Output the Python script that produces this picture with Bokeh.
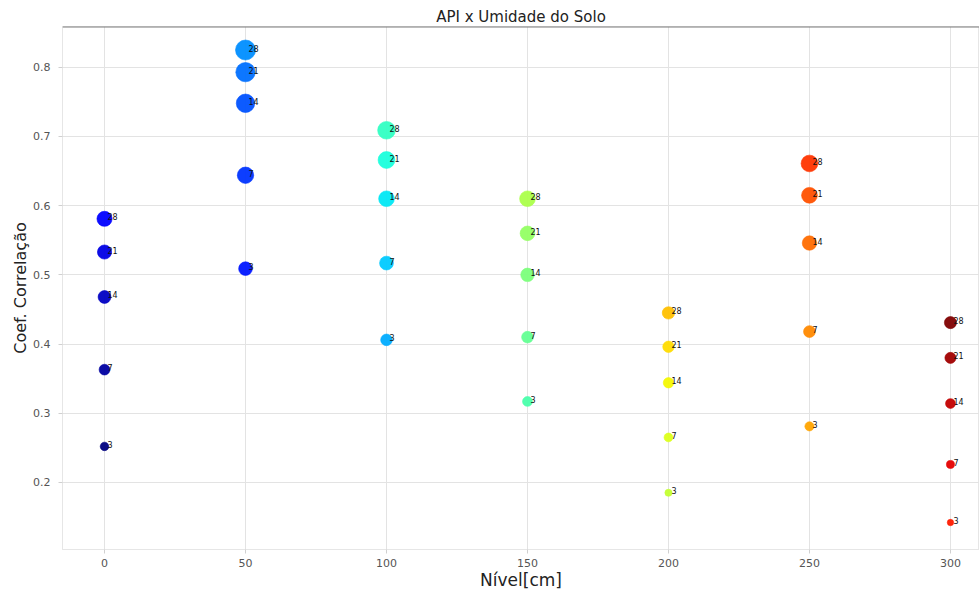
import numpy as np
from bokeh.plotting import figure
from bokeh.models import ColumnDataSource, Span, FixedTicker, BoxAnnotation
from bokeh.embed import file_html
from bokeh.resources import INLINE
from bokeh.core.properties import value

# ---- data ----
levels = [0, 50, 100, 150, 200, 250, 300]          # Nível [cm]
windows = [3, 7, 14, 21, 28]                        # API window labels
coef_0 = [0.252, 0.363, 0.468, 0.533, 0.581]
coef_50 = [0.509, 0.644, 0.748, 0.793, 0.825]
coef_100 = [0.406, 0.517, 0.610, 0.666, 0.709]
coef_150 = [0.317, 0.410, 0.500, 0.560, 0.610]
coef_200 = [0.185, 0.265, 0.344, 0.396, 0.445]
coef_250 = [0.281, 0.418, 0.546, 0.615, 0.661]
coef_300 = [0.142, 0.226, 0.314, 0.380, 0.431]
x_ticks = [0, 50, 100, 150, 200, 250, 300]
y_ticks = [0.2, 0.3, 0.4, 0.5, 0.6, 0.7, 0.8]

all_coefs = [coef_0, coef_50, coef_100, coef_150, coef_200, coef_250, coef_300]

# ---- jet colormap ----
def jet(t):
    r = np.interp(t, [0, 0.35, 0.66, 0.89, 1], [0, 0, 1, 1, 0.5])
    g = np.interp(t, [0, 0.125, 0.375, 0.64, 0.91, 1], [0, 0, 1, 1, 0, 0])
    b = np.interp(t, [0, 0.11, 0.34, 0.65, 1], [0.5, 1, 1, 0, 0])
    return "#%02x%02x%02x" % (int(r * 255), int(g * 255), int(b * 255))

xs, ys, labs = [], [], []
for lev, cs in zip(levels, all_coefs):
    for w, c in zip(windows, cs):
        xs.append(lev)
        ys.append(c)
        labs.append(str(w))
n = len(xs)
colors = [jet(i / (n - 1)) for i in range(n)]
sizes = [3.5 + 20 * v for v in ys]

src = ColumnDataSource(dict(x=xs, y=ys, lab=labs, color=colors, size=sizes))

X0, X1 = -14.9, 310.3
Y0, Y1 = 0.103, 0.859

W, H = 979, 592
BL, BT, BB = 62, 26, 42

p = figure(width=W, height=H, output_backend="svg", toolbar_location=None,
           x_range=(X0, X1), y_range=(Y0, Y1),
           min_border_left=BL, min_border_right=0, min_border_bottom=BB, min_border_top=BT,
           title="API x Umidade do Solo")
p.title.align = "center"
p.title.text_font = "DejaVu Sans"
p.title.text_font_size = "15px"
p.title.text_font_style = "normal"
p.title.text_color = "#222222"
p.title.standoff = 2
p.title.offset = 0

p.scatter("x", "y", source=src, size="size", fill_color="color", line_color="color",
          fill_alpha=0.95, line_alpha=0.6)
p.text("x", "y", text="lab", source=src, text_font=value("DejaVu Sans"),
       text_font_size="8px", text_color="#111111", text_baseline="middle",
       x_offset=3, y_offset=-2)

p.outline_line_color = "#e6e6e6"
p.add_layout(Span(location=Y1, dimension="width", line_color="#7a7a7a", line_width=2))

# dark header strip of the slide (screen units are frame-relative, y upward)
frame_h = H - BT - BB
p.add_layout(BoxAnnotation(left=-BL, right=W - BL, top=frame_h + BT, bottom=frame_h + BT - 6,
                           left_units="screen", right_units="screen",
                           top_units="screen", bottom_units="screen",
                           fill_color="#0b3a70", fill_alpha=1.0, line_color=None,
                           level="overlay"))

p.xgrid.grid_line_color = "#e3e3e3"
p.ygrid.grid_line_color = "#e3e3e3"

p.xaxis.ticker = FixedTicker(ticks=x_ticks)
p.yaxis.ticker = FixedTicker(ticks=y_ticks)
for ax in (p.xaxis[0], p.yaxis[0]):
    ax.axis_line_color = "#e6e6e6"
    ax.major_tick_line_color = "#d0d0d0"
    ax.major_tick_out = 4
    ax.major_tick_in = 0
    ax.minor_tick_line_color = None
    ax.major_label_text_font = "DejaVu Sans"
    ax.major_label_text_font_size = "11px"
    ax.major_label_text_color = "#555555"
    ax.axis_label_text_font = "DejaVu Sans"
    ax.axis_label_text_font_style = "normal"
    ax.axis_label_text_color = "#222222"
p.xaxis.axis_label = "Nível[cm]"
p.yaxis.axis_label = "Coef. Correlação"
p.xaxis.axis_label_text_font_size = "17px"
p.yaxis.axis_label_text_font_size = "16px"
p.xaxis.major_label_standoff = 5
p.xaxis.axis_label_standoff = 0
p.yaxis.major_label_standoff = 8
p.yaxis.axis_label_standoff = 0

open("out.html", "w").write(file_html(p, INLINE))
